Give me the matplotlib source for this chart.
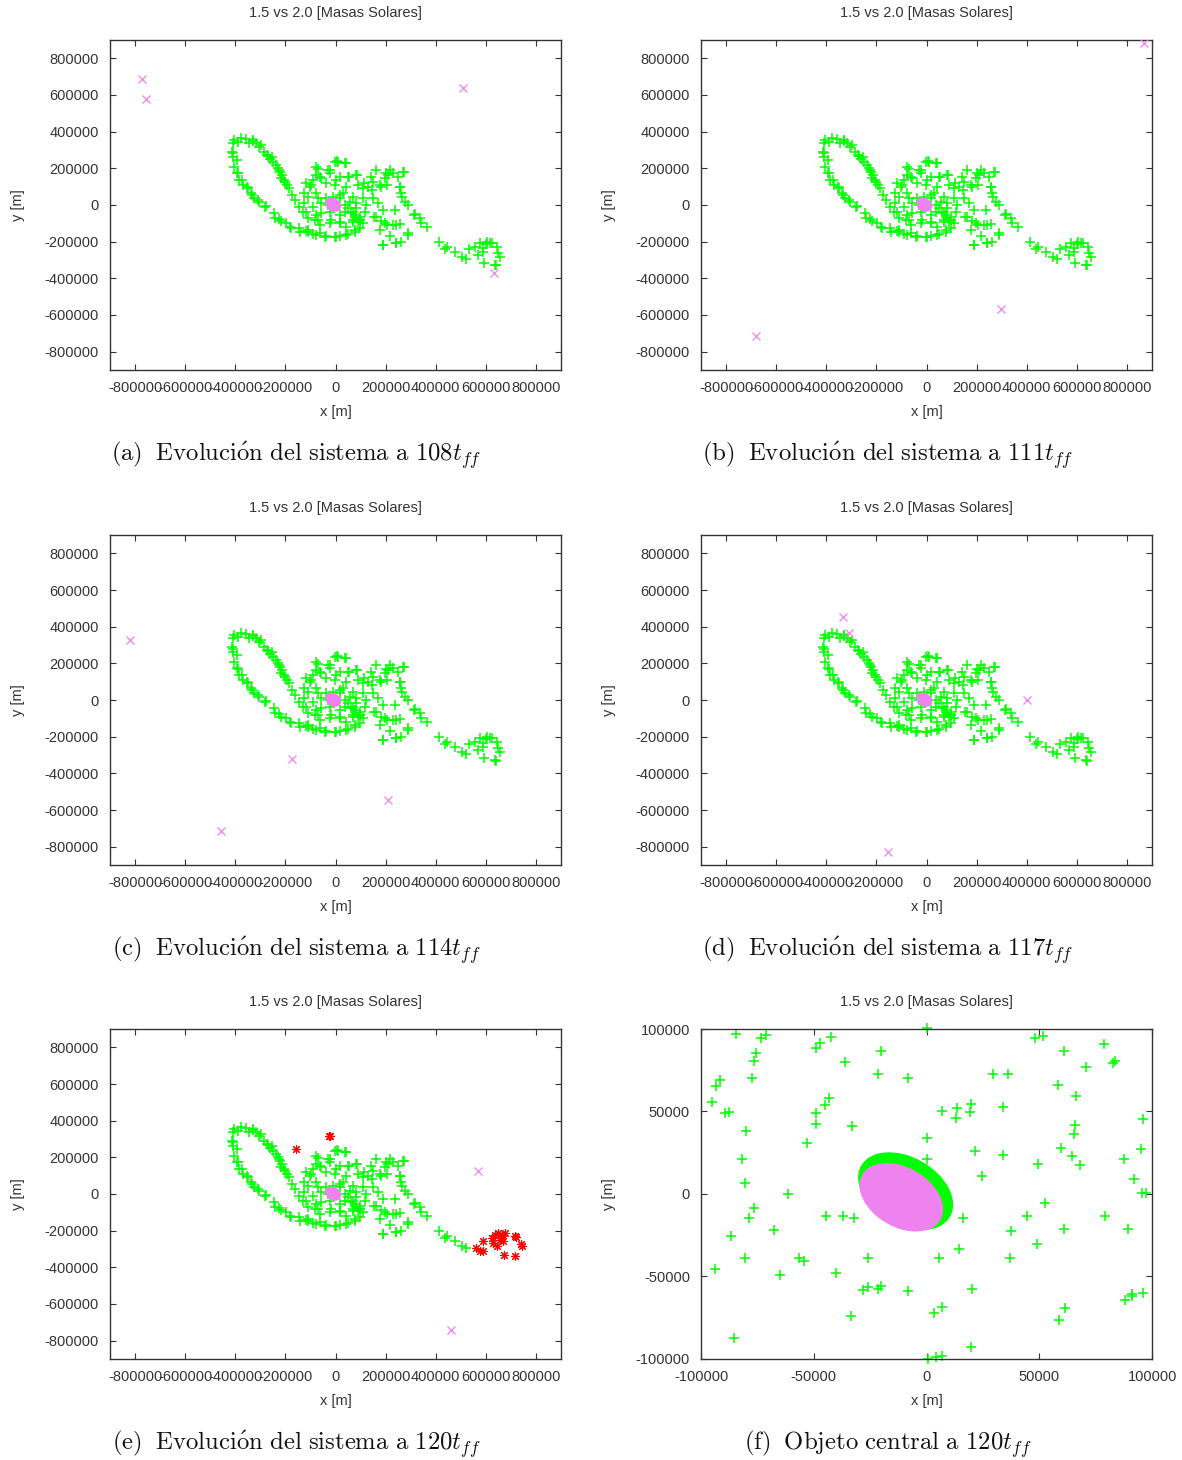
import matplotlib.pyplot as plt
from matplotlib.patches import Ellipse

# all positions in thousands of metres
loop_x = [-411, -404, -377, -357, -331, -317, -304, -284, -271, -251, -237, -224, -213, -204, -184, -173, -144, -131, -111,
          -390, -345, -328, -296, -275, -262, -255, -230, -223, -216, -203, -195, -160,
          -413, -411, -404, -395, -384, -371, -351, -337, -324, -304, -277, -244, -224, -197, -177, -144, -117, -91, -64,
          -37, -4, 16, 49, 76, 96, 109,
          -409, -395, -389, -375, -355, -335, -309, -282, -242, -216, -183, -143, -110, -77, -44, 3, 43, 76, 96]
loop_y = [336, 355, 364, 358, 351, 336, 315, 291, 267, 236, 218, 191, 164, 136, 91, 55, -9, -36, -73,
          345, 340, 354, 327, 272, 250, 263, 200, 181, 145, 127, 110, 25,
          291, 264, 209, 173, 136, 109, 91, 64, 36, 18, -5, -42, -78, -96, -127, -127, -142, -158, -151,
          -169, -173, -167, -158, -145, -127, -96,
          281, 245, 172, 136, 100, 55, 27, -9, -72, -90, -118, -145, -145, -163, -172, -172, -163, -136, -82]

core_x = [-4, 5, 36, -77, -24, 16, 49, 83, -64, -91, -117, -37, -4, 43, 89, 109, -124, -77, 29, 69, 109,
          -124, -91, -57, 36, 83, 123, -117, -77, -24, 16, 63, 96, -84, -24, 16, 69, 89, -64, 43, 83,
          -24, -104, -11, 16, -37, 49, 116, 69,
          -71, -77, -97, -57, -31, 8, 41, 1, 54, 87, 114, -110, -71, 16, 56, 83, -57, -31, 36, 76, 96,
          69, -71, -110, 16, -17]
core_y = [236, 242, 227, 209, 191, 155, 155, 164, 155, 136, 118, 118, 109, 100, 109, 91, 64, 64, 64, 45, 36,
          9, -9, 9, 0, 9, 0, -36, -55, -36, -55, -45, -64, -82, -100, -91, -82, -91, -109, -118, -73,
          173, 100, 45, 36, 36, -18, -36, -36,
          199, 163, 109, 145, 191, 236, 227, 136, 154, 163, 118, 45, 36, 54, 18, -18, -45, 0, -36, -54, -82,
          -91, -82, -136, -100, -82]

right_x = [129, 149, 163, 176, 196, 209, 229, 249, 269, 256, 263, 276, 289, 316, 336, 363, 149, 169, 189, 236,
           163, 196, 229, 256, 176, 216, 189, 243, 263, 289,
           140, 200, 219, 272, 147, 180, 206, 259, 265, 312, 341, 154, 180, 207, 240, 188, 241, 288]
right_y = [100, 127, 191, 109, 145, 164, 173, 155, 182, 100, 64, 18, 0, -49, -73, -122, 36, 9, -27, -27,
           -64, -100, -109, -104, -136, -169, -218, -209, -200, -155,
           154, 172, 191, 181, 82, 100, 109, 100, 45, -54, -100, -63, -90, -109, -109, -219, -209, -163]

tail_x = [414, 438, 443, 476, 503, 520]
tail_y = [-200, -239, -231, -255, -282, -296]

hook_x = [533, 556, 576, 603, 623, 645, 656, 636, 592, 569, 589, 587, 600, 615, 650, 640]
hook_y = [-242, -227, -209, -200, -209, -227, -282, -327, -318, -273, -236, -255, -215, -205, -260, -330]

# escaped bodies (violet crosses) for each snapshot
esc_a_x = [-773, -757, 509, 633]
esc_a_y = [685, 580, 640, -373]
esc_b_x = [869, 296, -680]
esc_b_y = [885, -569, -714]
esc_c_x = [-820, -175, 208, -459]
esc_c_y = [327, -324, -545, -714]
esc_d_x = [-333, -311, 400, -155]
esc_d_y = [451, 364, 0, -827]
esc_e_x = [569, 462]
esc_e_y = [125, -740]

# second object (red) in the last snapshot
red_e_x = [-157, -27, -22, 559, 576, 589, 623, 636, 649, 663, 669, 643, 676, 716, 743, 716, 672, 656, 629,
           590, 655, 720, 740]
red_e_y = [245, 315, 318, -295, -313, -258, -240, -222, -213, -231, -258, -285, -213, -231, -285, -340, -334,
           -249, -267, -312, -222, -235, -275]

# zoom on the central object
zoom_x = [-84.4, -73.6, -71.1, -75.5, -76.7, -77.6, -91.8, -93.3, -95.1, -89.2, -87.4, -80.0, -81.8, -80.7,
          -76.3, -78.8, -86.5, -67.8, -80.7, -93.7, -85.2, -65.2, -61.5, -56.6, -54.5, -48.9, -47.4, -42.2,
          -48.9, -48.9, -45.2, -43.2, -52.9, -36.0, -32.9, -44.4, -37.0, -32.3, -40.0, -26.1, -28.4, -25.9,
          -21.5, -20.4, -33.5, -20.4, -21.5, -8.4, -8.1, 0.0, 0.3, 0.1, 6.7, 13.3, 13.0, 19.5, 19.3, 21.5,
          24.4, 16.3, 14.4, 5.3, 20.0, 6.7, 3.4, 19.7, 4.4, 6.9, 0.6, 29.3, 36.3, 34.1, 34.1, 37.3, 37.0,
          44.7, 48.9, 49.2, 52.3, 48.3, 51.5, 61.0, 58.1, 66.2, 65.9, 65.5, 59.5, 64.7, 68.1, 70.6, 78.6,
          82.6, 83.4, 61.0, 78.9, 89.3, 87.5, 91.9, 95.5, 97.3, 95.2, 95.8, 87.8, 91.1, 91.2, 95.9, 61.5, 58.5]
zoom_y = [97.0, 94.3, 96.1, 85.6, 80.8, 70.2, 69.2, 65.6, 55.9, 49.0, 49.8, 38.1, 21.5, 6.5,
          -8.7, -14.4, -25.3, -21.9, -39.1, -45.7, -87.2, -49.0, -0.2, -38.5, -40.7, 88.4, 91.5, 94.9,
          49.0, 42.3, 54.0, 58.1, 30.8, 79.9, 41.3, -13.2, -13.6, -14.8, -47.6, -39.1, -58.3, -56.3,
          -57.3, -55.7, -73.9, 86.8, 72.9, 70.6, -58.9, 100.4, 34.2, 21.0, 50.2, 52.4, 45.9, 54.4, 49.8, 26.3,
          10.9, -14.8, -33.6, -39.1, -57.3, -68.4, -72.1, -92.7, -98.8, -98.4, -99.8, 72.9, 72.9, 53.0, 23.5,
          -22.3, -38.5, -13.2, -30.4, 18.0, -5.7, 94.5, 95.9, 86.8, 66.2, 59.1, 41.9, 36.4, 27.9, 23.1, 17.4,
          76.7, 91.1, 79.3, 80.4, -21.3, -13.2, -21.3, 21.3, 9.1, 0.8, 0.4, 27.5, 45.7, -64.0, -61.9, -60.7,
          -59.9, -69.4, -76.1]

# central object: green envelope and violet core (centre x, y, width, height, angle)
outer_body = [-9.3, 1.7, 52.2, 35.7, -54]
inner_body = [-11.2, -2.0, 46.0, 31.4, -54]

times = [108, 111, 114, 117, 120]
letters = ['a', 'b', 'c', 'd', 'e']
escapes = [(esc_a_x, esc_a_y), (esc_b_x, esc_b_y), (esc_c_x, esc_c_y), (esc_d_x, esc_d_y), (esc_e_x, esc_e_y)]

GREEN = '#00ff00'
VIOLET = '#ee82ee'
RED = '#ff0000'
TXT = '#333333'

plt.rcParams['font.family'] = ['Liberation Sans', 'DejaVu Sans']
plt.rcParams['mathtext.fontset'] = 'cm'
plt.rcParams['axes.unicode_minus'] = False


def km(v):
    return [a * 1000 for a in v]


def style(ax, lim, ticks):
    ax.set_xlim(-lim, lim)
    ax.set_ylim(-lim, lim)
    ax.set_xticks(ticks)
    ax.set_yticks(ticks)
    ax.set_xticklabels([str(t) for t in ticks])
    ax.set_yticklabels([str(t) for t in ticks])
    ax.tick_params(direction='in', length=4, width=0.8, top=True, right=True,
                   labelsize=10.5, pad=8, color=TXT, labelcolor=TXT)
    for s in ax.spines.values():
        s.set_color(TXT)
        s.set_linewidth(1.0)
    ax.set_xlabel('x [m]', fontsize=10.5, color=TXT, va='center')
    ax.xaxis.set_label_coords(0.5, -0.127)
    ax.set_ylabel('y [m]', fontsize=10.5, color=TXT, va='center')
    ax.yaxis.set_label_coords(-0.204, 0.5)
    ax.text(0.5, 1.082, '1.5 vs 2.0 [Masas Solares]', transform=ax.transAxes,
            ha='center', va='center', fontsize=10.5, color=TXT)


fig = plt.figure(figsize=(11.82, 14.6), dpi=100)
lefts = [0.0931, 0.5931]
bottoms = [0.7466, 0.4075, 0.0692]
W, H = 0.3816, 0.2260
big_ticks = [-800000, -600000, -400000, -200000, 0, 200000, 400000, 600000, 800000]

for i in range(6):
    ax = fig.add_axes([lefts[i % 2], bottoms[i // 2], W, H])
    if i < 5:
        gx = loop_x + core_x + right_x + tail_x
        gy = loop_y + core_y + right_y + tail_y
        if i < 4:
            gx = gx + hook_x
            gy = gy + hook_y
        ax.plot(km(gx), km(gy), '+', color=GREEN, ms=6.5, mew=1.1, zorder=2)
        ell = Ellipse((outer_body[0] * 1000, outer_body[1] * 1000), outer_body[2] * 1000,
                      outer_body[3] * 1000, angle=outer_body[4], facecolor=VIOLET,
                      edgecolor=VIOLET, lw=4, zorder=3)
        ax.add_patch(ell)
        ex, ey = escapes[i]
        ax.plot(km(ex), km(ey), 'x', color=VIOLET, ms=6, mew=0.9, zorder=4)
        if i == 4:
            ax.plot(km(red_e_x), km(red_e_y), marker=(8, 2, 0), ls='none', color=RED,
                    ms=6.5, mew=0.8, zorder=5)
        style(ax, 900000, big_ticks)
        cap = (r'$\mathrm{(' + letters[i] + r')\ \;Evoluci\acute{o}n\ del\ sistema\ a\ '
               + str(times[i]) + r'}t_{ff}$')
    else:
        ax.plot(km(zoom_x), km(zoom_y), '+', color=GREEN, ms=6.5, mew=1.1, zorder=2, clip_on=False)
        ax.add_patch(Ellipse((outer_body[0] * 1000, outer_body[1] * 1000), outer_body[2] * 1000,
                             outer_body[3] * 1000, angle=outer_body[4], facecolor=GREEN,
                             edgecolor='none', zorder=3))
        ax.add_patch(Ellipse((inner_body[0] * 1000, inner_body[1] * 1000), inner_body[2] * 1000,
                             inner_body[3] * 1000, angle=inner_body[4], facecolor=VIOLET,
                             edgecolor='none', zorder=4))
        style(ax, 100000, [-100000, -50000, 0, 50000, 100000])
        cap = r'$\mathrm{(f)\ \;Objeto\ central\ a\ 120}t_{ff}$'
    cx = 296 / 1182 if i % 2 == 0 else 888 / 1182
    cy = bottoms[i // 2] - 85 / 1460
    fig.text(cx, cy, cap, ha='center', va='center', fontsize=17.8, color='#111111')

fig.savefig('out.png', dpi=100, facecolor='white')
